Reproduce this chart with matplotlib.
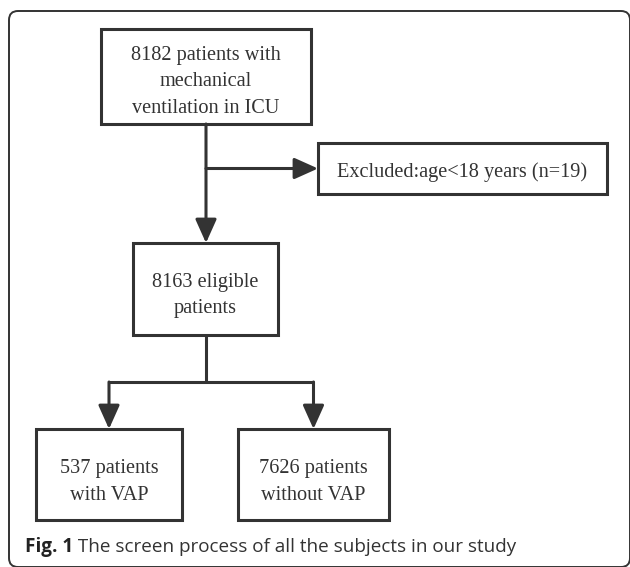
import matplotlib.pyplot as plt
from matplotlib.patches import Rectangle, FancyBboxPatch

# box texts and their frames (pixel coords: x0, y0, x1, y1)
box_texts = ["8182 patients with\nmechanical\nventilation in ICU",
             "Excluded:age<18 years (n=19)",
             "8163 eligible\npatients",
             "537 patients\nwith VAP",
             "7626 patients\nwithout VAP"]
box_frames = [(101, 29, 311, 124),
              (318, 143, 607, 194),
              (133, 243, 278, 335),
              (36, 429, 182, 520),
              (238, 429, 389, 520)]
text_offset = [5.5, 4, 6.5, 7.5, 7.5]

caption_bold = "Fig. 1"
caption_rest = " The screen process of all the subjects in our study"

line_col = "#333333"

fig = plt.figure(figsize=(6.3, 5.67), dpi=100)
ax = fig.add_axes([0, 0, 1, 1])
ax.set_xlim(0, 630)
ax.set_ylim(567, 0)
ax.axis("off")

# outer rounded frame
frame = FancyBboxPatch((9, 11), 621, 556, boxstyle="round,pad=0,rounding_size=9",
                       fill=False, ec=line_col, lw=1.4, clip_on=False)
ax.add_patch(frame)

for txt, (x0, y0, x1, y1), off in zip(box_texts, box_frames, text_offset):
    ax.add_patch(Rectangle((x0, y0), x1 - x0, y1 - y0, fill=False, ec=line_col, lw=2.2))
    ax.text((x0 + x1) / 2, (y0 + y1) / 2 + off, txt, ha="center", va="center",
            fontsize=14.6, family="Liberation Serif", color="#333333", linespacing=1.55)


def arrow(x0, y0, x1, y1):
    ax.annotate("", xy=(x1, y1), xytext=(x0, y0),
                arrowprops=dict(arrowstyle="-|>,head_length=1.45,head_width=0.65",
                                mutation_scale=10, lw=2.2, color=line_col,
                                shrinkA=0, shrinkB=0))


def seg(xs, ys):
    ax.plot(xs, ys, color=line_col, lw=2.2, solid_capstyle="butt")


top, excl, mid, left, right = box_frames
cx_top = (top[0] + top[2]) / 2
cx_left = (left[0] + left[2]) / 2
cx_right = (right[0] + right[2]) / 2
branch_y = (excl[1] + excl[3]) / 2
split_y = 382

arrow(cx_top, top[3], cx_top, mid[1])
arrow(cx_top, branch_y, excl[0], branch_y)
seg([cx_top, cx_top], [mid[3], split_y])
seg([cx_left, cx_right], [split_y, split_y])
arrow(cx_left, split_y, cx_left, left[1])
arrow(cx_right, split_y, cx_right, right[1])

t = ax.text(25, 547, caption_bold, fontsize=13.6, family="Open Sans", weight="bold",
            color="#222222", va="center", ha="left")
fig.canvas.draw()
bb = t.get_window_extent().transformed(ax.transData.inverted())
ax.text(bb.x1, 547, caption_rest, fontsize=13.6, family="Open Sans",
        color="#333333", va="center", ha="left")

fig.savefig("out.png", dpi=100)
